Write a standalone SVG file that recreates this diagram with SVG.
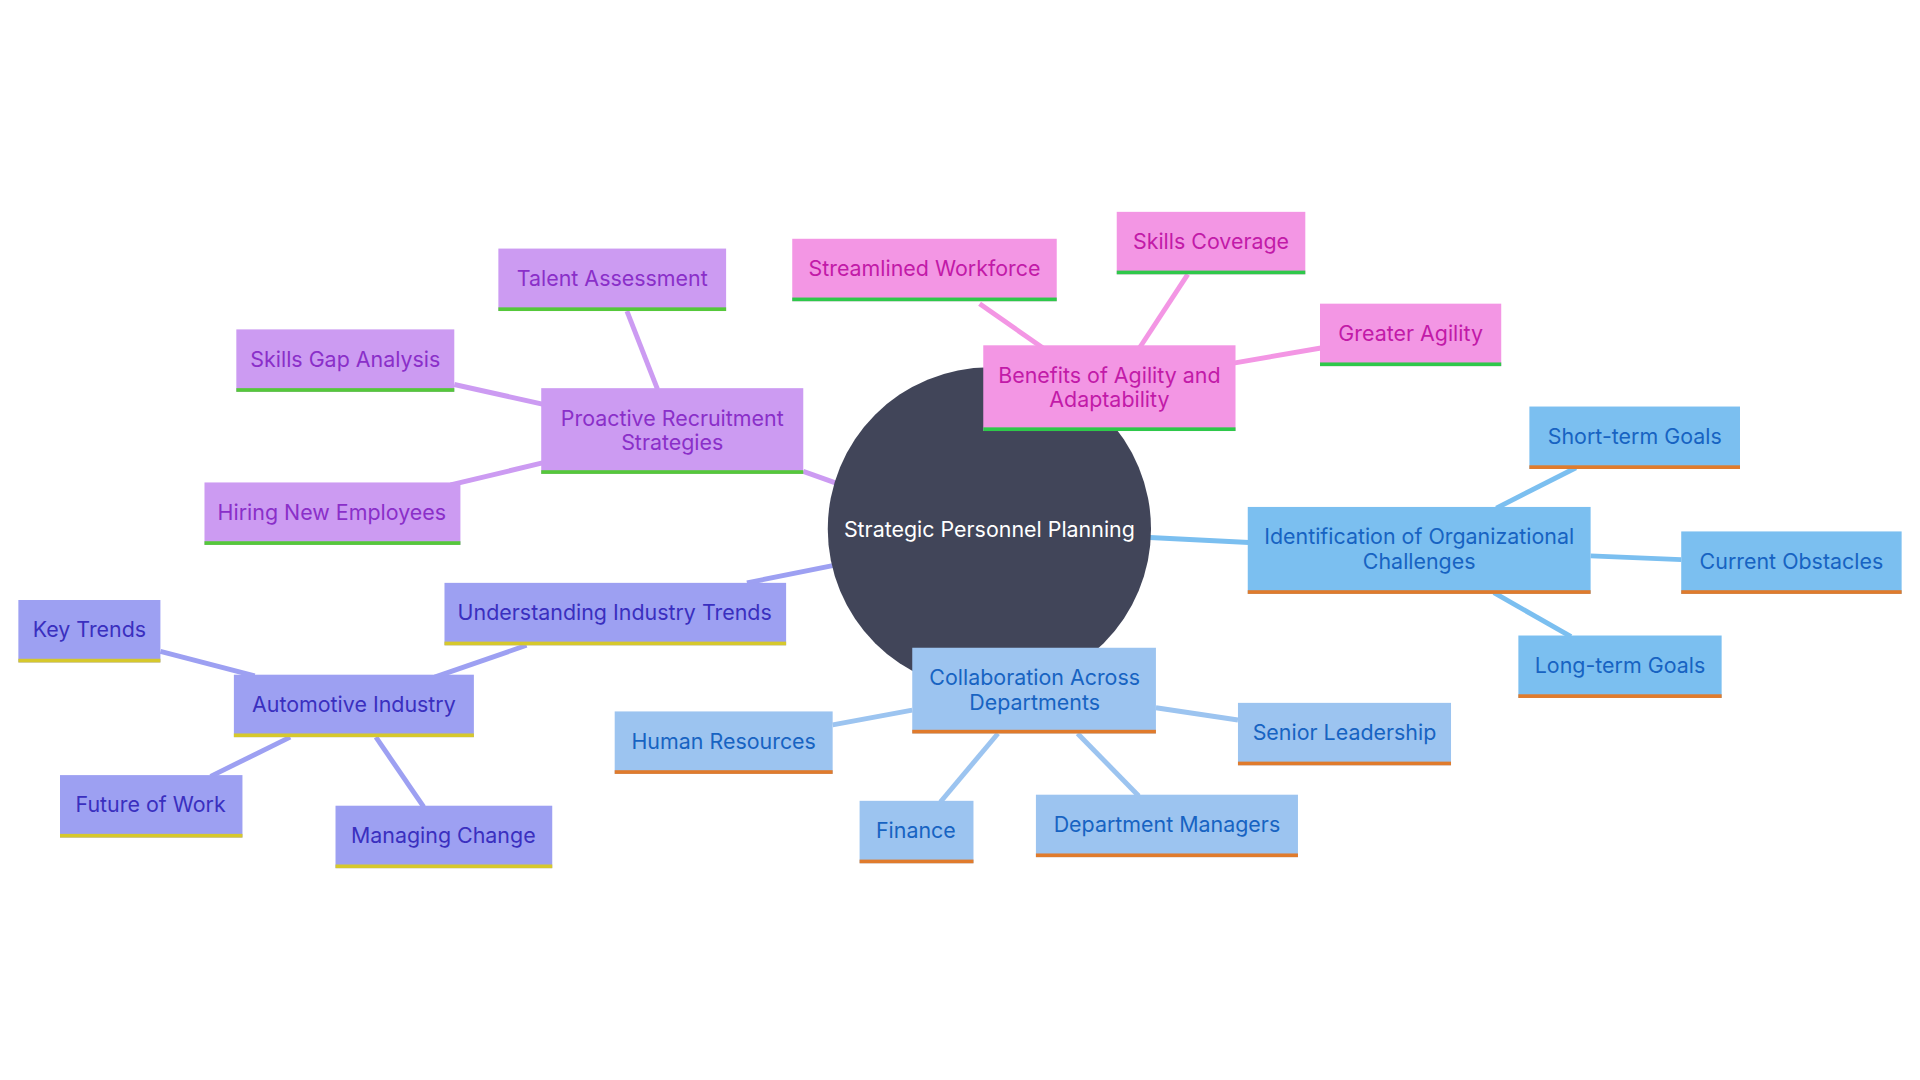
<svg xmlns="http://www.w3.org/2000/svg" width="1920" height="1080" viewBox="0 0 1920 1080">
<style>
text{font-family:Inter,"Noto Sans",sans-serif;font-size:17.5px;text-anchor:middle;dominant-baseline:central}
.pk rect.b{fill:#f396e4}.pk text{fill:#c21aa8}.pk rect.u{fill:#2ec84a}
.pu rect.b{fill:#cc9bf2}.pu text{fill:#8a2fc9}.pu rect.u{fill:#55c83a}
.in rect.b{fill:#9da0f2}.in text{fill:#3a2fbf}.in rect.u{fill:#d6c82c}
.bl rect.b{fill:#7bbff0}.bl text{fill:#1763c2}.bl rect.u{fill:#e07b2c}
.lb rect.b{fill:#9cc4f0}.lb text{fill:#1763c2}.lb rect.u{fill:#e07b2c}
.e{stroke-width:4;fill:none}
</style>
<rect width="1920" height="1080" fill="#fff"/>
<g transform="scale(1.22449)">
<g id="connectors">
<g stroke="#f396e4" class="e"><line x1="860" y1="290" x2="800" y2="248"/><line x1="930" y1="285" x2="970" y2="224"/><line x1="1005" y1="297" x2="1080" y2="284"/></g>
<g stroke="#cc9bf2" class="e"><line x1="656" y1="385" x2="684" y2="395"/><line x1="537" y1="318" x2="512" y2="254"/><line x1="443" y1="330" x2="371" y2="314"/><line x1="443" y1="378" x2="368" y2="396"/></g>
<g stroke="#9da0f2" class="e"><line x1="610" y1="476" x2="680" y2="462"/><line x1="430" y1="527" x2="355" y2="553"/><line x1="208" y1="552" x2="131" y2="532"/><line x1="237" y1="602" x2="172" y2="634"/><line x1="307" y1="602" x2="346" y2="659"/></g>
<g stroke="#9cc4f0" class="e"><line x1="745" y1="580" x2="680" y2="592"/><line x1="815" y1="599" x2="768" y2="655"/><line x1="880" y1="599" x2="930" y2="650"/><line x1="944" y1="578" x2="1011" y2="588"/></g>
<g stroke="#7bbff0" class="e"><line x1="939" y1="439" x2="1020" y2="443"/><line x1="1222" y1="415" x2="1287" y2="382"/><line x1="1299" y1="454" x2="1373" y2="457"/><line x1="1220" y1="484" x2="1283" y2="520"/></g>
</g>
<g id="center"><circle cx="808" cy="432" r="132" fill="#414559"/><text x="808" y="432" fill="#fff">Strategic Personnel Planning</text></g>
<g id="benefits" class="pk"><rect class="b" x="803" y="282" width="206" height="70"/><rect class="u" x="803" y="349" width="206" height="3"/><text x="906" y="306">Benefits of Agility and</text><text x="906" y="326">Adaptability</text></g>
<g id="streamlined" class="pk"><rect class="b" x="647" y="195" width="216" height="51"/><rect class="u" x="647" y="243" width="216" height="3"/><text x="755" y="219">Streamlined Workforce</text></g>
<g id="skillscov" class="pk"><rect class="b" x="912" y="173" width="154" height="51"/><rect class="u" x="912" y="221" width="154" height="3"/><text x="989" y="197">Skills Coverage</text></g>
<g id="agility" class="pk"><rect class="b" x="1078" y="248" width="148" height="51"/><rect class="u" x="1078" y="296" width="148" height="3"/><text x="1152" y="272">Greater Agility</text></g>
<g id="proactive" class="pu"><rect class="b" x="442" y="317" width="214" height="70"/><rect class="u" x="442" y="384" width="214" height="3"/><text x="549" y="341">Proactive Recruitment</text><text x="549" y="361">Strategies</text></g>
<g id="talent" class="pu"><rect class="b" x="407" y="203" width="186" height="51"/><rect class="u" x="407" y="251" width="186" height="3"/><text x="500" y="227">Talent Assessment</text></g>
<g id="gap" class="pu"><rect class="b" x="193" y="269" width="178" height="51"/><rect class="u" x="193" y="317" width="178" height="3"/><text x="282" y="293">Skills Gap Analysis</text></g>
<g id="hiring" class="pu"><rect class="b" x="167" y="394" width="209" height="51"/><rect class="u" x="167" y="442" width="209" height="3"/><text x="271" y="418">Hiring New Employees</text></g>
<g id="industry" class="in"><rect class="b" x="363" y="476" width="279" height="51"/><rect class="u" x="363" y="524" width="279" height="3"/><text x="502" y="500">Understanding Industry Trends</text></g>
<g id="auto" class="in"><rect class="b" x="191" y="551" width="196" height="51"/><rect class="u" x="191" y="599" width="196" height="3"/><text x="289" y="575">Automotive Industry</text></g>
<g id="keytrends" class="in"><rect class="b" x="15" y="490" width="116" height="51"/><rect class="u" x="15" y="538" width="116" height="3"/><text x="73" y="514">Key Trends</text></g>
<g id="future" class="in"><rect class="b" x="49" y="633" width="149" height="51"/><rect class="u" x="49" y="681" width="149" height="3"/><text x="123" y="657">Future of Work</text></g>
<g id="change" class="in"><rect class="b" x="274" y="658" width="177" height="51"/><rect class="u" x="274" y="706" width="177" height="3"/><text x="362" y="682">Managing Change</text></g>
<g id="collab" class="lb"><rect class="b" x="745" y="529" width="199" height="70"/><rect class="u" x="745" y="596" width="199" height="3"/><text x="845" y="553">Collaboration Across</text><text x="845" y="573">Departments</text></g>
<g id="hr" class="lb"><rect class="b" x="502" y="581" width="178" height="51"/><rect class="u" x="502" y="629" width="178" height="3"/><text x="591" y="605">Human Resources</text></g>
<g id="finance" class="lb"><rect class="b" x="702" y="654" width="93" height="51"/><rect class="u" x="702" y="702" width="93" height="3"/><text x="748" y="678">Finance</text></g>
<g id="managers" class="lb"><rect class="b" x="846" y="649" width="214" height="51"/><rect class="u" x="846" y="697" width="214" height="3"/><text x="953" y="673">Department Managers</text></g>
<g id="senior" class="lb"><rect class="b" x="1011" y="574" width="174" height="51"/><rect class="u" x="1011" y="622" width="174" height="3"/><text x="1098" y="598">Senior Leadership</text></g>
<g id="ident" class="bl"><rect class="b" x="1019" y="414" width="280" height="71"/><rect class="u" x="1019" y="482" width="280" height="3"/><text x="1159" y="438">Identification of Organizational</text><text x="1159" y="458">Challenges</text></g>
<g id="short" class="bl"><rect class="b" x="1249" y="332" width="172" height="51"/><rect class="u" x="1249" y="380" width="172" height="3"/><text x="1335" y="356">Short-term Goals</text></g>
<g id="obstacles" class="bl"><rect class="b" x="1373" y="434" width="180" height="51"/><rect class="u" x="1373" y="482" width="180" height="3"/><text x="1463" y="458">Current Obstacles</text></g>
<g id="long" class="bl"><rect class="b" x="1240" y="519" width="166" height="51"/><rect class="u" x="1240" y="567" width="166" height="3"/><text x="1323" y="543">Long-term Goals</text></g>
</g>
</svg>
